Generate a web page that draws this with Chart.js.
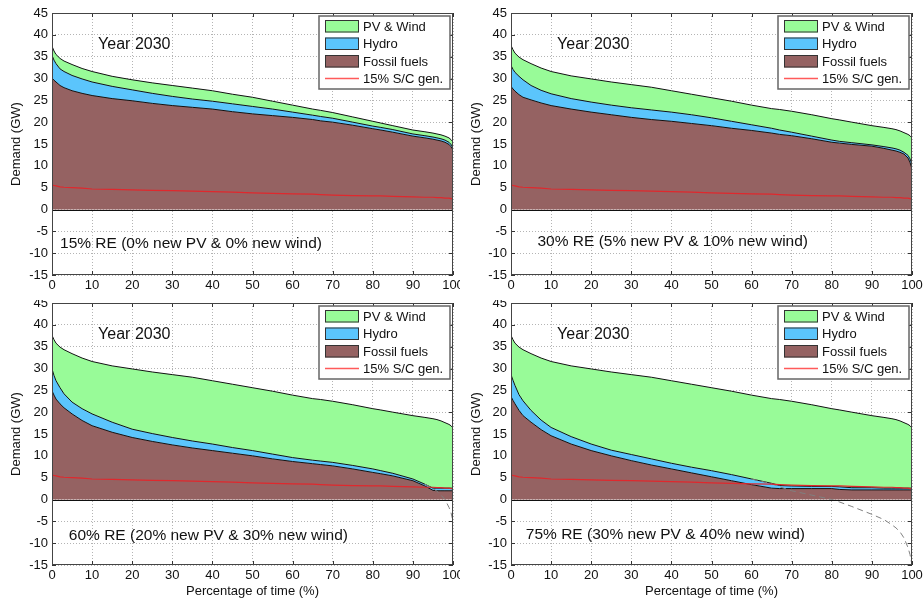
<!doctype html>
<html>
<head>
	<title>Year 2030 demand duration curves</title>
	<script src="https://cdn.jsdelivr.net/npm/chart.js@4.4.1/dist/chart.umd.min.js"></script>
	<style>
		body { margin: 0; background: #fff; }
		.panel { position: absolute; }
	</style>
</head>
<body>
	<canvas class="panel" id="c1" width="460" height="300" style="left:0;top:0"></canvas>
	<canvas class="panel" id="c2" width="463" height="300" style="left:460px;top:0"></canvas>
	<canvas class="panel" id="c3" width="460" height="301" style="left:0;top:300px"></canvas>
	<canvas class="panel" id="c4" width="463" height="301" style="left:460px;top:300px"></canvas>
	<script>
		// percentage of time (x) shared by every curve
		var percentTime = [0, 0.5, 1, 2, 3, 5, 7.5, 10, 15, 20, 25, 30, 35, 40, 45, 50, 55, 60, 65, 67, 70, 75, 80, 82, 85, 90, 93, 95, 96, 97, 98, 99, 99.5, 100];
		var xTickValues = [0, 10, 20, 30, 40, 50, 60, 70, 80, 90, 100];
		var yTickValues = [-15, -10, -5, 0, 5, 10, 15, 20, 25, 30, 35, 40, 45];

		// 15% S/C generation (GW)
		var scGen = [5.6, 5.5, 5.4, 5.2, 5.1, 5.0, 4.9, 4.7, 4.6, 4.5, 4.4, 4.3, 4.2, 4.1, 4.0, 3.8, 3.7, 3.6, 3.5, 3.4, 3.3, 3.2, 3.1, 3.1, 3.0, 2.9, 2.8, 2.8, 2.7, 2.7, 2.6, 2.6, 2.5, 2.4];

		// top of the PV & Wind area (total demand)
		var total1 = [37.4, 36.3, 35.5, 34.6, 34.0, 33.2, 32.3, 31.6, 30.5, 29.7, 29.0, 28.4, 27.8, 27.2, 26.4, 25.7, 24.8, 23.9, 23.0, 22.7, 22.2, 21.2, 20.2, 19.8, 19.2, 18.2, 17.8, 17.5, 17.3, 17.1, 16.8, 16.4, 16.0, 15.5];
		var demand = [37.6, 36.6, 35.8, 34.9, 34.3, 33.4, 32.4, 31.6, 30.6, 29.9, 29.2, 28.6, 28.0, 27.2, 26.4, 25.6, 24.8, 23.9, 23.1, 22.9, 22.5, 21.7, 20.8, 20.5, 20.0, 19.2, 18.8, 18.5, 18.3, 18.0, 17.6, 17.2, 16.9, 16.4];

		// top of the hydro area
		var hydro1 = [35.3, 34.2, 33.4, 32.2, 31.6, 30.7, 29.9, 29.2, 28.2, 27.4, 26.6, 25.9, 25.3, 24.8, 24.2, 23.6, 23.0, 22.3, 21.6, 21.3, 20.9, 20.0, 19.1, 18.8, 18.3, 17.3, 16.9, 16.6, 16.4, 16.2, 15.9, 15.4, 14.9, 14.2];
		var hydro2 = [33.0, 32.1, 31.4, 30.5, 29.7, 28.4, 27.3, 26.5, 25.4, 24.6, 23.9, 23.3, 22.8, 22.3, 21.7, 21.0, 20.2, 19.4, 18.6, 18.2, 17.7, 16.8, 15.9, 15.6, 15.3, 14.8, 14.4, 14.1, 13.9, 13.6, 13.1, 12.4, 11.6, 10.4];
		var hydro3 = [29.9, 28.4, 27.2, 25.6, 24.2, 22.3, 20.8, 19.6, 17.7, 16.1, 15.1, 14.2, 13.4, 12.7, 11.9, 11.2, 10.4, 9.6, 9.0, 8.8, 8.5, 7.8, 7.0, 6.6, 6.0, 4.7, 3.5, 2.6, 2.6, 2.6, 2.6, 2.6, 2.6, 2.6];
		var hydro4 = [28.6, 27.3, 26.1, 24.0, 22.6, 20.4, 18.2, 16.5, 14.4, 12.7, 11.3, 10.3, 9.3, 8.3, 7.4, 6.6, 5.7, 4.7, 3.7, 3.2, 3.1, 3.0, 3.0, 2.9, 2.7, 2.7, 2.6, 2.6, 2.6, 2.6, 2.6, 2.6, 2.6, 2.6];

		// top of the fossil fuels area
		var fossil1 = [30.1, 29.6, 29.2, 28.4, 27.9, 27.2, 26.6, 26.1, 25.4, 24.9, 24.3, 23.8, 23.4, 23.0, 22.4, 21.9, 21.5, 21.1, 20.6, 20.3, 20.0, 19.3, 18.5, 18.2, 17.7, 16.8, 16.4, 16.1, 15.9, 15.7, 15.4, 14.9, 14.4, 13.7];
		var fossil2 = [28.2, 27.6, 27.1, 26.3, 25.7, 25.1, 24.4, 23.8, 23.0, 22.3, 21.7, 21.1, 20.6, 20.2, 19.7, 19.2, 18.6, 18.1, 17.5, 17.2, 16.9, 16.2, 15.4, 15.2, 14.9, 14.5, 14.0, 13.6, 13.4, 13.1, 12.7, 11.8, 10.8, 9.3];
		var fossil3 = [24.9, 23.9, 23.0, 21.9, 21.0, 19.6, 18.1, 16.9, 15.4, 14.2, 13.3, 12.5, 11.8, 11.2, 10.6, 10.0, 9.3, 8.7, 8.2, 8.0, 7.7, 7.0, 6.2, 5.9, 5.4, 4.3, 3.1, 2.1, 2.0, 2.0, 2.0, 2.0, 2.0, 2.0];
		var fossil4 = [23.6, 22.7, 21.9, 20.4, 19.2, 17.7, 16.0, 14.6, 12.7, 11.2, 10.0, 8.9, 7.9, 7.0, 6.1, 5.2, 4.3, 3.4, 2.6, 2.5, 2.5, 2.5, 2.5, 2.3, 2.2, 2.2, 2.2, 2.2, 2.2, 2.2, 2.2, 2.2, 2.2, 2.2];

		// residual load without curtailment (dashed)
		var netLoad3 = [null, null, null, null, null, null, null, null, null, null, null, null, null, null, null, null, null, null, null, null, null, null, null, null, null, null, 3.5, 2.5, 1.9, 1.0, 0.0, -1.8, -3.0, -5.0];
		var netLoad4 = [null, null, null, null, null, null, null, null, null, null, null, null, null, null, null, null, null, 4.7, 3.6, 2.9, 2.0, 1.0, 0.0, -0.6, -1.6, -3.4, -4.6, -5.8, -6.5, -7.4, -8.8, -11.0, -12.6, -15.0];

		var GREEN = '#98fb98', BLUE = '#5bc5fc', BROWN = '#956262', RED = '#e0282d';
		var FONT = '"Liberation Sans", Arial, Helvetica, sans-serif';

		Chart.defaults.font.family = FONT;
		Chart.defaults.font.size = 13;
		Chart.defaults.color = '#111';

		function pts(values) {
			return values.map(function(v, i) {
				return { x: percentTime[i], y: v };
			});
		}

		// matlab-like frame, inner ticks, notes and legend box
		var matlabAxes = {
			id: 'matlabAxes',
			beforeDatasetsDraw: function(chart) {
				var ctx = chart.ctx, a = chart.chartArea, sx = chart.scales.x, sy = chart.scales.y;
				ctx.save();
				ctx.strokeStyle = '#333';
				ctx.lineWidth = 1;
				ctx.beginPath();
				xTickValues.forEach(function(v) {
					var px = Math.round(sx.getPixelForValue(v)) + 0.5;
					ctx.moveTo(px, a.bottom); ctx.lineTo(px, a.bottom - 4);
					ctx.moveTo(px, a.top); ctx.lineTo(px, a.top + 4);
				});
				yTickValues.forEach(function(v) {
					var py = Math.round(sy.getPixelForValue(v)) + 0.5;
					ctx.moveTo(a.left, py); ctx.lineTo(a.left + 4, py);
					ctx.moveTo(a.right, py); ctx.lineTo(a.right - 4, py);
				});
				ctx.stroke();
				ctx.restore();
			},
			afterDatasetsDraw: function(chart) {
				var ctx = chart.ctx, a = chart.chartArea, sy = chart.scales.y;
				ctx.save();
				ctx.lineWidth = 1;
				ctx.strokeStyle = '#111';
				var y0 = Math.round(sy.getPixelForValue(0)) + 0.5;
				ctx.beginPath();
				ctx.moveTo(a.left, y0); ctx.lineTo(a.right, y0);
				ctx.stroke();
				ctx.strokeStyle = '#444';
				ctx.strokeRect(a.left + 0.5, a.top + 0.5, a.right - a.left - 1, a.bottom - a.top - 1);
				ctx.restore();
			},
			afterDraw: function(chart, args, opts) {
				var ctx = chart.ctx, a = chart.chartArea, sx = chart.scales.x, sy = chart.scales.y;
				ctx.save();
				ctx.fillStyle = '#111';
				ctx.textBaseline = 'middle';
				ctx.textAlign = 'left';
				ctx.font = '16px ' + FONT;
				ctx.fillText('Year 2030', sx.getPixelForValue(11.5), sy.getPixelForValue(37.8));
				ctx.font = '15.5px ' + FONT;
				ctx.fillText(opts.note, sx.getPixelForValue(opts.noteX), sy.getPixelForValue(opts.noteY));

				// legend
				var w = 131, h = 73, bx = a.right - w - 3, by = a.top + 3;
				ctx.fillStyle = '#fff';
				ctx.fillRect(bx, by, w, h);
				ctx.strokeStyle = '#666';
				ctx.lineWidth = 1.5;
				ctx.strokeRect(bx, by, w, h);
				var ds = chart.data.datasets;
				[ds[4], ds[3], ds[2], ds[0]].forEach(function(d, i) {
					var cy = by + 10 + i * 17.5;
					if (d.backgroundColor) {
						ctx.fillStyle = d.backgroundColor;
						ctx.fillRect(bx + 6, cy - 6, 34, 12.5);
						ctx.strokeStyle = '#333';
						ctx.lineWidth = 1;
						ctx.strokeRect(bx + 6.5, cy - 5.5, 33, 11.5);
					} else {
						ctx.strokeStyle = '#ff5a5a';
						ctx.lineWidth = 1.4;
						ctx.beginPath();
						ctx.moveTo(bx + 6, cy);
						ctx.lineTo(bx + 40, cy);
						ctx.stroke();
					}
					ctx.fillStyle = '#111';
					ctx.font = '13px ' + FONT;
					ctx.fillText(d.label, bx + 44, cy + 1);
				});
				ctx.restore();
			}
		};

		function makeChart(id, p) {
			var config = {
				type: 'line',
				data: {
					datasets: [{
						label: '15% S/C gen.',
						data: pts(scGen),
						borderColor: RED,
						borderWidth: 1.2,
						fill: false
					}, {
						label: 'Net load',
						data: pts(p.net),
						borderColor: '#808080',
						borderDash: [6, 4],
						borderWidth: 1,
						fill: false
					}, {
						label: 'Fossil fuels',
						data: pts(p.fossil),
						borderColor: '#111',
						borderWidth: 1,
						backgroundColor: BROWN,
						fill: 'origin'
					}, {
						label: 'Hydro',
						data: pts(p.hydro),
						borderColor: '#111',
						borderWidth: 1,
						backgroundColor: BLUE,
						fill: '-1'
					}, {
						label: 'PV & Wind',
						data: pts(p.total),
						borderColor: '#111',
						borderWidth: 1,
						backgroundColor: GREEN,
						fill: '-1'
					}]
				},
				options: {
					responsive: false,
					animation: false,
					events: [],
					elements: {
						point: { radius: 0 },
						line: { tension: 0 }
					},
					layout: {
						padding: { top: p.padTop, right: p.padRight, left: 0, bottom: 0 }
					},
					plugins: {
						legend: { display: false },
						tooltip: { enabled: false },
						matlabAxes: { note: p.note, noteX: p.noteX, noteY: p.noteY }
					},
					scales: {
						x: {
							type: 'linear',
							min: 0,
							max: 100,
							afterBuildTicks: function(s) {
								s.ticks = xTickValues.map(function(v) { return { value: v }; });
							},
							afterFit: function(s) {
								s.height = p.xHeight;
								s.paddingLeft = 0;
								s.paddingRight = 0;
							},
							grid: {
								color: '#b4b4b4',
								drawTicks: false
							},
							border: { display: false, dash: [1, 2] },
							ticks: { padding: 3, maxRotation: 0, autoSkip: false, font: { size: 13 } },
							title: {
								display: p.xTitle,
								text: 'Percentage of time (%)',
								font: { size: 13 },
								padding: { top: 0, bottom: 1.5 }
							}
						},
						y: {
							min: -15,
							max: 45,
							afterBuildTicks: function(s) {
								s.ticks = yTickValues.map(function(v) { return { value: v }; });
							},
							afterFit: function(s) {
								s.width = p.yWidth;
								s.paddingTop = 0;
								s.paddingBottom = 0;
							},
							grid: {
								color: '#b4b4b4',
								drawTicks: false
							},
							border: { display: false, dash: [1, 2] },
							ticks: { padding: 4, autoSkip: false, font: { size: 13 } },
							title: {
								display: true,
								text: 'Demand (GW)',
								font: { size: 13 },
								padding: { top: 9, bottom: 0 }
							}
						}
					}
				},
				plugins: [matlabAxes]
			};
			return new Chart(document.getElementById(id), config);
		}

		var empty = percentTime.map(function() { return null; });

		window.onload = function() {
			makeChart('c1', { total: total1, hydro: hydro1, fossil: fossil1, net: empty,
				note: '15% RE (0% new PV & 0% new wind)', noteX: 2, noteY: -7.8,
				padTop: 13, padRight: 7, yWidth: 52, xHeight: 25, xTitle: false });
			makeChart('c2', { total: demand, hydro: hydro2, fossil: fossil2, net: empty,
				note: '30% RE (5% new PV & 10% new wind)', noteX: 6.6, noteY: -7.4,
				padTop: 13, padRight: 11, yWidth: 51, xHeight: 25, xTitle: false });
			makeChart('c3', { total: demand, hydro: hydro3, fossil: fossil3, net: netLoad3,
				note: '60% RE (20% new PV & 30% new wind)', noteX: 4.2, noteY: -8.2,
				padTop: 3, padRight: 7, yWidth: 52, xHeight: 36, xTitle: true });
			makeChart('c4', { total: demand, hydro: hydro4, fossil: fossil4, net: netLoad4,
				note: '75% RE (30% new PV & 40% new wind)', noteX: 3.7, noteY: -8.1,
				padTop: 3, padRight: 11, yWidth: 51, xHeight: 36, xTitle: true });
		};
	</script>
</body>
</html>
